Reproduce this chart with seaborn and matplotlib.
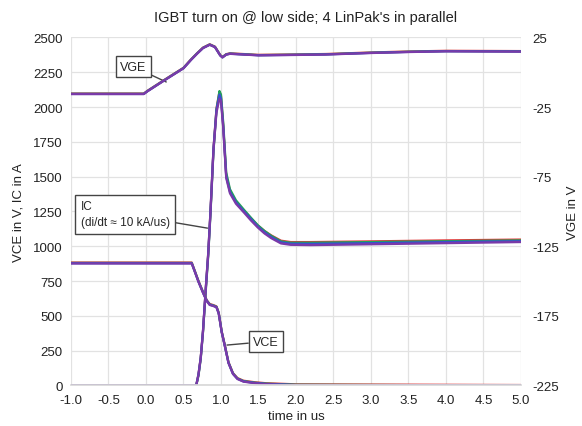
import numpy as np
import pandas as pd
import matplotlib
matplotlib.use("Agg")
import matplotlib.pyplot as plt
import seaborn as sns

# ---------------- data ----------------
devices = ["D1", "D2", "D3", "D4"]
colors = ["#e23a3a", "#22a05a", "#3a4fd0", "#7a3aa8"]

# collector current IC in A
t_ic = [-1.0, 0.67, 0.70, 0.73, 0.76, 0.80, 0.83, 0.86, 0.90, 0.94, 0.98, 1.00, 1.03, 1.07,
        1.12, 1.20, 1.31, 1.40, 1.49, 1.58, 1.67, 1.80, 1.93, 2.20, 3.00, 4.00, 5.00]
ic_d1 = [0, 0, 80, 200, 390, 720, 950, 1250, 1700, 1990, 2110, 2080, 1870, 1510,
         1400, 1320, 1255, 1200, 1150, 1110, 1078, 1040, 1030, 1030, 1035, 1042, 1048]
ic_d2 = [0, 0, 70, 190, 380, 700, 930, 1230, 1680, 1980, 2115, 2090, 1890, 1530,
         1410, 1330, 1260, 1205, 1152, 1110, 1075, 1035, 1025, 1025, 1030, 1036, 1042]
ic_d3 = [0, 0, 80, 200, 390, 720, 950, 1250, 1700, 1980, 2090, 2060, 1860, 1500,
         1390, 1315, 1248, 1195, 1142, 1100, 1066, 1028, 1018, 1017, 1022, 1030, 1036]
ic_d4 = [0, 0, 75, 195, 385, 710, 940, 1240, 1690, 1960, 2060, 2040, 1850, 1490,
         1380, 1305, 1240, 1185, 1135, 1092, 1058, 1020, 1010, 1008, 1014, 1022, 1030]

# collector-emitter voltage VCE in V
t_vce = [-1.0, 0.61, 0.65, 0.70, 0.76, 0.81, 0.85, 0.90, 0.94, 0.97, 1.01, 1.05, 1.10,
         1.16, 1.22, 1.30, 1.45, 1.60, 2.00, 5.00]
vce = [880, 880, 822, 748, 670, 610, 582, 574, 565, 520, 385, 290, 165,
       86, 50, 31, 20, 13, 5, 0]
vce_offset = [3, 0, -2, -4]

# gate-emitter voltage VGE in V
t_vge = [-1.0, -0.03, 0.02, 0.25, 0.50, 0.60, 0.68, 0.76, 0.85, 0.92, 0.99, 1.02,
         1.07, 1.12, 1.50, 2.00, 2.40, 3.00, 3.50, 4.00, 5.00]
vge = [-15.5, -15.5, -13.5, -5.5, 3.0, 9.0, 13.4, 17.5, 19.9, 18.2, 12.2, 10.8,
       12.8, 13.4, 12.3, 12.6, 12.9, 14.0, 14.7, 15.2, 15.0]
vge_offset = [0.2, 0.0, -0.1, -0.2]

left_ticks = [0, 250, 500, 750, 1000, 1250, 1500, 1750, 2000, 2250, 2500]
right_ticks = [-225, -175, -125, -75, -25, 25]
x_ticks = [-1.0, -0.5, 0.0, 0.5, 1.0, 1.5, 2.0, 2.5, 3.0, 3.5, 4.0, 4.5, 5.0]

# ---------------- long form tables ----------------
ic_vals = [ic_d1, ic_d2, ic_d3, ic_d4]
rows = []
for d, vals in zip(devices, ic_vals):
    for t, v in zip(t_ic, vals):
        rows.append(("IC", d, t, v))
for d, off in zip(devices, vce_offset):
    for t, v in zip(t_vce, vce):
        rows.append(("VCE", d, t, max(v + off, 0)))
left_df = pd.DataFrame(rows, columns=["signal", "device", "time", "value"])

rows = []
for d, off in zip(devices, vge_offset):
    for t, v in zip(t_vge, vge):
        rows.append((d, t, v + off))
vge_df = pd.DataFrame(rows, columns=["device", "time", "value"])

# ---------------- figure ----------------
sns.set_theme(style="white")
plt.rcParams["font.family"] = ["Liberation Sans", "DejaVu Sans"]
plt.rcParams["axes.unicode_minus"] = False

fig = plt.figure(figsize=(5.82, 4.27), dpi=100)
ax = fig.add_axes([0.122, 0.095, 0.773, 0.815])
ax2 = ax.twinx()

pal = dict(zip(devices, colors))
for sig in ["IC", "VCE"]:
    sns.lineplot(data=left_df[left_df.signal == sig], x="time", y="value", hue="device",
                 palette=pal, ax=ax, lw=1.6, legend=False, estimator=None, sort=False)
sns.lineplot(data=vge_df, x="time", y="value", hue="device", palette=pal, ax=ax2,
             lw=1.6, legend=False, estimator=None, sort=False)

ax.set_xlim(-1.0, 5.0)
ax.set_ylim(0, 2500)
ax2.set_ylim(-225, 25)
ax.set_xticks(x_ticks)
ax.set_xticklabels([f"{v:.1f}" for v in x_ticks])
ax.set_yticks(left_ticks)
ax2.set_yticks(right_ticks)

ax.grid(True, color="#e2e2e2", lw=0.9)
ax2.grid(False)
for a in (ax, ax2):
    for s in a.spines.values():
        s.set_visible(False)
ax.spines["bottom"].set_visible(True)
ax.spines["bottom"].set_color("#d8d8d8")
ax.tick_params(axis="both", length=0, labelsize=9.5, colors="#222222", pad=6)
ax2.tick_params(axis="y", length=0, labelsize=9.5, colors="#222222", pad=8)

ax.set_xlabel("time in us", fontsize=9.5, color="#222222", labelpad=3)
ax.set_ylabel("VCE in V, IC in A", fontsize=9.5, color="#222222", labelpad=6)
ax2.set_ylabel("VGE in V", fontsize=9.5, color="#222222", labelpad=6)

fig.text(0.525, 0.957, "IGBT turn on @ low side; 4 LinPak's in parallel",
         ha="center", va="center", fontsize=10.5, color="#222222")

box = dict(boxstyle="square,pad=0.35", fc="white", ec="#444444", lw=1.0)
arrow = dict(arrowstyle="-", color="#444444", lw=1.0, shrinkA=0, shrinkB=0)
ax.annotate("VGE", xy=(0.27, 2180), xytext=(-0.17, 2290), ha="center", va="center",
            fontsize=9, bbox=box, arrowprops=arrow)
ax.annotate("IC\n(di/dt \u2248 10 kA/us)", xy=(0.82, 1130), xytext=(-0.87, 1230),
            ha="left", va="center", fontsize=8.5, bbox=dict(boxstyle="square,pad=0.45",
            fc="white", ec="#444444", lw=1.0), arrowprops=arrow, linespacing=1.5)
ax.annotate("VCE", xy=(1.08, 290), xytext=(1.60, 315), ha="center", va="center",
            fontsize=9, bbox=box, arrowprops=arrow)

fig.savefig("out.png", dpi=100)
